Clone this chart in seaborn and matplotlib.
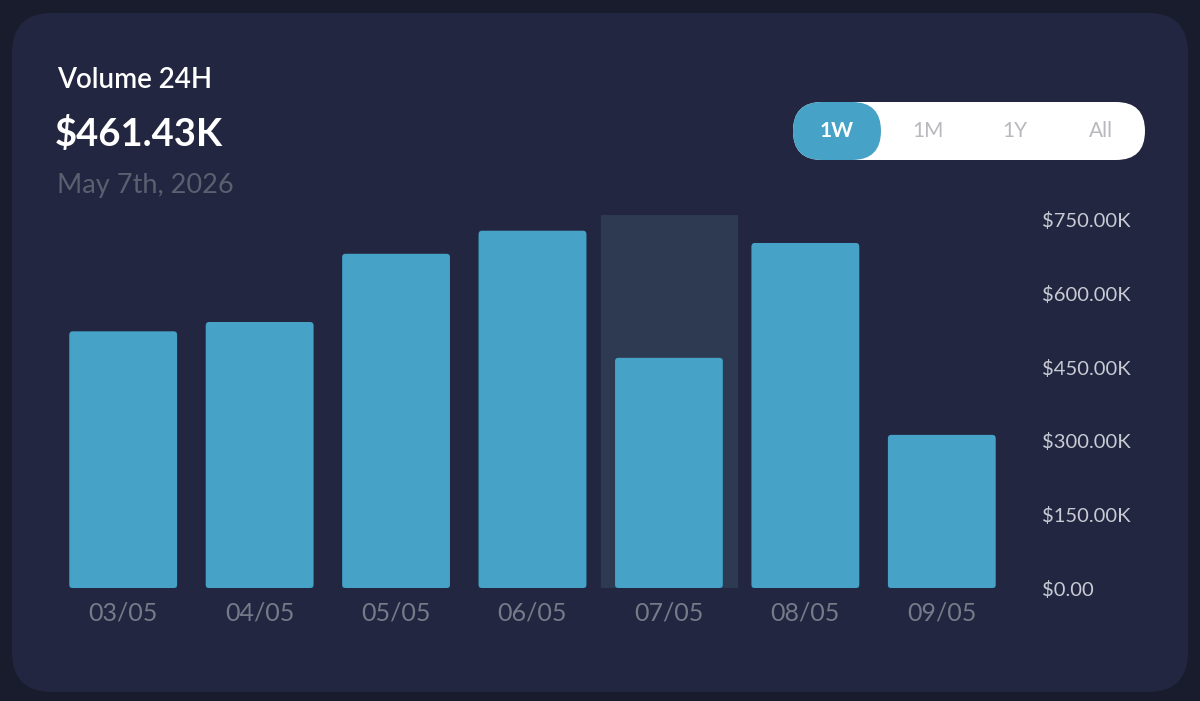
import numpy as np
import pandas as pd
import matplotlib
matplotlib.use("Agg")
import matplotlib.pyplot as plt
import seaborn as sns
from matplotlib.patches import FancyBboxPatch

# datos del grafico
dates = ["03/05", "04/05", "05/05", "06/05", "07/05", "08/05", "09/05"]
volume = [523000, 542000, 681000, 728000, 469000, 703000, 312000]
y_ticks = [0, 150000, 300000, 450000, 600000, 750000]
selected_date = "07/05"
headline = "$461.43K"
ranges = ["1W", "1M", "1Y", "All"]

BG = "#191c2c"
CARD = "#222640"
BAR = "#46a2c6"
HILITE = "#2e3a52"

sns.set_theme(style="dark")
plt.rcParams["font.family"] = ["Lato", "DejaVu Sans"]

W, H = 1200, 701
fig = plt.figure(figsize=(W / 100, H / 100), dpi=100)
fig.patch.set_facecolor(BG)

# tarjeta redondeada
r = 40 / W
card = FancyBboxPatch((12 / W, 9 / H), 1176 / W, 679 / H,
                      boxstyle=f"round,pad=0,rounding_size={r}",
                      mutation_aspect=W / H, transform=fig.transFigure,
                      facecolor=CARD, edgecolor="none", zorder=-5)
fig.patches.append(card)

ax = fig.add_axes([55 / W, 113 / H, 955 / W, 373 / H])
ax.set_facecolor("none")
ax.set_zorder(2)

df = pd.DataFrame({"date": dates, "volume": volume})
sel = dates.index(selected_date)
ax.axvspan(sel - 0.5, sel + 0.5, color=HILITE, zorder=0)
sns.barplot(data=df, x="date", y="volume", color=BAR, saturation=1,
            width=0.79, ax=ax, zorder=2)

ax.set_xlim(-0.5, len(dates) - 0.5)
ax.set_ylim(0, 760000)

# esquinas redondeadas de las barras
ax_w = 955
ax_h = 373
aspect = (760000 / ax_h) / (len(dates) / ax_w)
for p in list(ax.patches):
    if not hasattr(p, "get_width") or p.get_width() > 0.9:
        continue
    x0, y0 = p.get_x(), p.get_y()
    w, h = p.get_width(), p.get_height()
    p.set_visible(False)
    shadow = FancyBboxPatch((x0, y0 - 2500), w, h,
                            boxstyle="round,pad=0,rounding_size=0.025",
                            mutation_aspect=aspect, facecolor="#14506e",
                            edgecolor="none", zorder=2)
    ax.add_patch(shadow)
    rb = FancyBboxPatch((x0, y0), w, h,
                        boxstyle="round,pad=0,rounding_size=0.025",
                        mutation_aspect=aspect, facecolor=BAR,
                        edgecolor="none", zorder=3)
    ax.add_patch(rb)


def fmt(v):
    if v == 0:
        return "$0.00"
    return f"${v / 1000:.2f}K"


ax.yaxis.tick_right()
ax.set_yticks(y_ticks)
ax.set_yticklabels([fmt(v) for v in y_ticks])
ax.tick_params(axis="y", length=0, pad=23, labelsize=14.5, labelcolor="#c9cbd4")
ax.tick_params(axis="x", length=0, pad=10, labelsize=18, labelcolor="#777a88")
ax.set_xlabel("")
ax.set_ylabel("")
ax.grid(False)
for s in ax.spines.values():
    s.set_visible(False)

# encabezado
fig.text(57 / W, 1 - 80 / H, "Volume 24H", color="white", fontsize=20,
         va="center", ha="left", fontweight="semibold")
fig.text(55 / W, 1 - 134 / H, headline, color="white", fontsize=27.5,
         va="center", ha="left", fontweight="bold")
fig.text(57 / W, 1 - 186 / H, "May 7th, 2026", color="#5b5f70", fontsize=19.5,
         va="center", ha="left")

# selector de rango
ph = 58
pr = 29 / W
pill = FancyBboxPatch((793 / W, (H - 160) / H), 352 / W, ph / H,
                      boxstyle=f"round,pad=0,rounding_size={pr}",
                      mutation_aspect=W / H, transform=fig.transFigure,
                      facecolor="white", edgecolor="none", zorder=1)
fig.patches.append(pill)
sel_pill = FancyBboxPatch((793 / W, (H - 160) / H), 88 / W, ph / H,
                          boxstyle=f"round,pad=0,rounding_size={pr}",
                          mutation_aspect=W / H, transform=fig.transFigure,
                          facecolor=BAR, edgecolor="none", zorder=2)
fig.patches.append(sel_pill)
for lab, xc in zip(ranges, [837, 928, 1015, 1101]):
    active = lab == "1W"
    fig.text(xc / W, 1 - 131 / H, lab, ha="center", va="center",
             fontsize=15, color="white" if active else "#b9b9bd",
             fontweight="bold" if active else "normal", zorder=3)

fig.savefig("out.png", dpi=100, facecolor=BG)
